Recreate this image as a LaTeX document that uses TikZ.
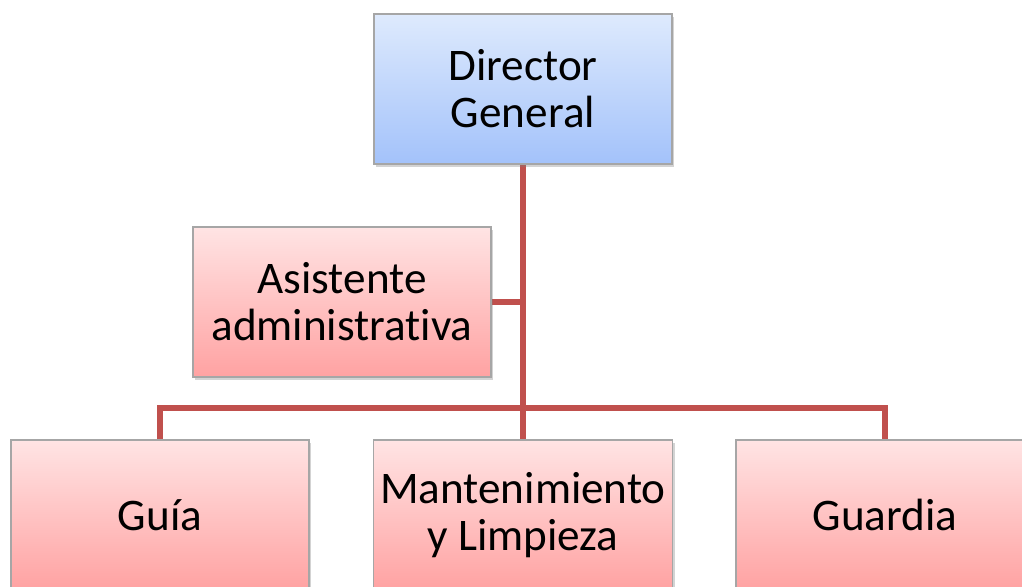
\documentclass[tikz,border=0pt]{standalone}
\usepackage{fontspec}
\setmainfont[Ligatures=NoCommon]{Carlito}
\usetikzlibrary{shadows,backgrounds}

\begin{document}
\begin{tikzpicture}[x=0.5pt, y=-0.5pt,
                        link/.style={draw={rgb,255:red,192;green,80;blue,77}, line width=3pt},
                        main box/.style={rectangle, draw=black!35, line width=0.6pt,
                          minimum width=149pt, minimum height=75pt, align=center,
                          font=\fontsize{22.6}{23.5}\selectfont,
                          drop shadow={shadow xshift=1pt, shadow yshift=-1.5pt, opacity=0.35}},
                        blue box/.style={main box, top color={rgb,255:red,222;green,234;blue,253}, bottom color={rgb,255:red,163;green,194;blue,250}},
                        pink box/.style={main box, top color={rgb,255:red,255;green,228;blue,228}, bottom color={rgb,255:red,255;green,162;blue,162}}]

      \useasboundingbox (0,0) rectangle (1022,586);
      \clip (0,0) rectangle (1022,586);

      \node[blue box] (dir) at (523,89) {Director\\General};
      \node[pink box] (asis) at (342,302) {Asistente\\administrativa};
      \node[pink box] (guia) at (160,515) {Guía};
      \node[pink box] (mant) at (523,515) {Mantenimiento\\y Limpieza};
      \node[pink box] (guard) at (885,515) {Guardia};
      \coordinate (bus) at (523,408);

      % lines go behind the boxes
      \begin{scope}[on background layer]
      \draw[link] (dir.south) -- (mant.north);
      \draw[link] (asis.east) -- (asis.east -| dir.south);
      \draw[link] (guia.north) |- (bus) -| (guard.north);
      \end{scope}

    \end{tikzpicture}
\end{document}
